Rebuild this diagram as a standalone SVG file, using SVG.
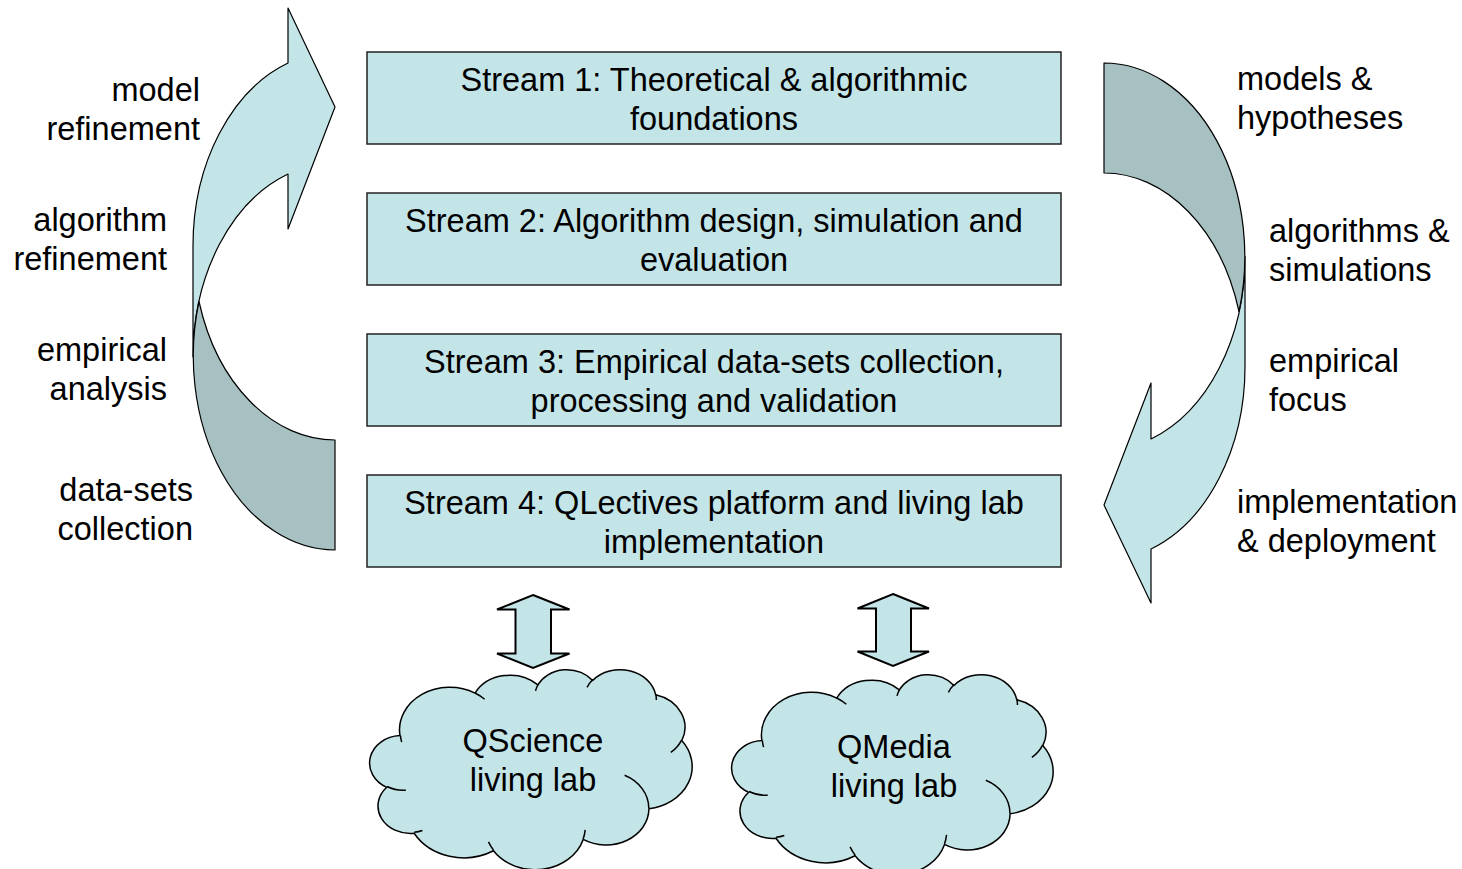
<svg xmlns="http://www.w3.org/2000/svg" width="1462" height="869" viewBox="0 0 1462 869">
<style>
.t{font-family:"Liberation Sans",Arial,sans-serif;font-size:32.5px;fill:#000}
.c{text-anchor:middle}
.r{text-anchor:end}
.box{fill:#C4E5E8;stroke:#222;stroke-width:1.5}
.lt{fill:#C4E5E8;stroke:#000;stroke-width:1.2;stroke-linejoin:round}
.dk{fill:#A7C1C3;stroke:#000;stroke-width:1.2;stroke-linejoin:round}
.dbl{fill:#C4E5E8;stroke:#000;stroke-width:2;stroke-linejoin:miter}
.cl{fill:#C4E5E8;stroke:#000;stroke-width:1.5}
.cli{fill:none;stroke:#000;stroke-width:1.5}
</style>
<rect width="1462" height="869" fill="#fff"/>

<g id="connectors">
  <g id="left-cycle-arrow">
    <path class="lt" d="M193 246 A142 194 0 0 1 288 63 L288 8 L335 107 L288 229 L288 174 A142 194 0 0 0 193 357 Z"/>
    <path class="dk" d="M335 440 A142 194 0 0 1 199 301.5 A142 194 0 0 0 335 550 Z"/>
  </g>
  <g id="right-cycle-arrow">
    <path class="lt" d="M1245 366.5 A141 193.5 0 0 1 1151 549 L1151 603 L1104 505 L1151 383 L1151 439 A141 193.5 0 0 0 1245 256.5 Z"/>
    <path class="dk" d="M1104 63 A141 193.5 0 0 1 1239 311.5 A141 193.5 0 0 0 1104 173 Z"/>
  </g>
  <path id="dbl-arrow-1" class="dbl" d="M533 595 L569.5 609.5 L551 609.5 L551 653.5 L569.5 653.5 L533 668 L497 653.5 L515.5 653.5 L515.5 609.5 L497 609.5 Z"/>
  <path id="dbl-arrow-2" class="dbl" d="M893 594 L929 608.5 L911 608.5 L911 651.5 L929 651.5 L893 666 L857.5 651.5 L876 651.5 L876 608.5 L857.5 608.5 Z"/>
</g>

<g id="stream1">
  <rect class="box" x="367" y="52" width="694" height="92"/>
  <text class="t c" x="714" y="91">Stream 1: Theoretical &amp; algorithmic</text>
  <text class="t c" x="714" y="130">foundations</text>
</g>
<g id="stream2">
  <rect class="box" x="367" y="193" width="694" height="92"/>
  <text class="t c" x="714" y="232">Stream 2: Algorithm design, simulation and</text>
  <text class="t c" x="714" y="271">evaluation</text>
</g>
<g id="stream3">
  <rect class="box" x="367" y="334" width="694" height="92"/>
  <text class="t c" x="714" y="373">Stream 3: Empirical data-sets collection,</text>
  <text class="t c" x="714" y="412">processing and validation</text>
</g>
<g id="stream4">
  <rect class="box" x="367" y="475" width="694" height="92"/>
  <text class="t c" x="714" y="514">Stream 4: QLectives platform and living lab</text>
  <text class="t c" x="714" y="553">implementation</text>
</g>

<g id="cloud-qscience">
  <g transform="translate(371 669) scale(0.0074306 0.0046296)">
    <path class="cl" vector-effect="non-scaling-stroke" d="M3900 14370 A6753 9190 0 0 1 14006 5203 A5333 7267 0 0 1 22457 3431 A4365 5945 0 0 1 29835 2481 A4857 6595 0 0 1 38319 5577 A5333 7273 0 0 1 41820 15461 A6775 9220 0 0 1 37405 30202 A5785 7867 0 0 1 28557 36813 A6752 9215 0 0 1 16482 39267 A7720 10543 0 0 1 5807 35476 A4360 5918 0 0 1 2116 25555 A4345 5945 0 0 1 3900 14370 Z"/>
    <path class="cli" vector-effect="non-scaling-stroke" d="M4693 26177 A4345 5945 0 0 1 2161 25381 M6928 34899 A4360 5918 0 0 1 5819 35281 M16478 39090 A6752 9215 0 0 1 15809 37348 M28827 34751 A6752 9215 0 0 1 28561 36660 M34129 22954 A5785 7867 0 0 1 37381 30090 M41798 15354 A5333 7273 0 0 1 40349 18031 M38324 5426 A4857 6595 0 0 1 38400 6690 M29078 3952 A4857 6595 0 0 1 29821 2338 M22141 4720 A4365 5945 0 0 1 22500 3330 M14000 5192 A6753 9190 0 0 1 15299 6540 M4127 15789 A6753 9190 0 0 1 3964 14380"/>
  </g>
  <text class="t c" x="533" y="752">QScience</text>
  <text class="t c" x="533" y="791">living lab</text>
</g>
<g id="cloud-qmedia">
  <g transform="translate(733 674) scale(0.0074074 0.0046296)">
    <path class="cl" vector-effect="non-scaling-stroke" d="M3900 14370 A6753 9190 0 0 1 14006 5203 A5333 7267 0 0 1 22457 3431 A4365 5945 0 0 1 29835 2481 A4857 6595 0 0 1 38319 5577 A5333 7273 0 0 1 41820 15461 A6775 9220 0 0 1 37405 30202 A5785 7867 0 0 1 28557 36813 A6752 9215 0 0 1 16482 39267 A7720 10543 0 0 1 5807 35476 A4360 5918 0 0 1 2116 25555 A4345 5945 0 0 1 3900 14370 Z"/>
    <path class="cli" vector-effect="non-scaling-stroke" d="M4693 26177 A4345 5945 0 0 1 2161 25381 M6928 34899 A4360 5918 0 0 1 5819 35281 M16478 39090 A6752 9215 0 0 1 15809 37348 M28827 34751 A6752 9215 0 0 1 28561 36660 M34129 22954 A5785 7867 0 0 1 37381 30090 M41798 15354 A5333 7273 0 0 1 40349 18031 M38324 5426 A4857 6595 0 0 1 38400 6690 M29078 3952 A4857 6595 0 0 1 29821 2338 M22141 4720 A4365 5945 0 0 1 22500 3330 M14000 5192 A6753 9190 0 0 1 15299 6540 M4127 15789 A6753 9190 0 0 1 3964 14380"/>
  </g>
  <text class="t c" x="894" y="758">QMedia</text>
  <text class="t c" x="894" y="797">living lab</text>
</g>

<g id="labels-left">
  <text class="t r" x="200" y="101">model</text>
  <text class="t r" x="200" y="140">refinement</text>
  <text class="t r" x="167" y="231">algorithm</text>
  <text class="t r" x="167" y="270">refinement</text>
  <text class="t r" x="167" y="361">empirical</text>
  <text class="t r" x="167" y="400">analysis</text>
  <text class="t r" x="193" y="501">data-sets</text>
  <text class="t r" x="193" y="540">collection</text>
</g>
<g id="labels-right">
  <text class="t" x="1237" y="90">models &amp;</text>
  <text class="t" x="1237" y="129">hypotheses</text>
  <text class="t" x="1269" y="242">algorithms &amp;</text>
  <text class="t" x="1269" y="281">simulations</text>
  <text class="t" x="1269" y="372">empirical</text>
  <text class="t" x="1269" y="411">focus</text>
  <text class="t" x="1237" y="513">implementation</text>
  <text class="t" x="1237" y="552">&amp; deployment</text>
</g>
</svg>
